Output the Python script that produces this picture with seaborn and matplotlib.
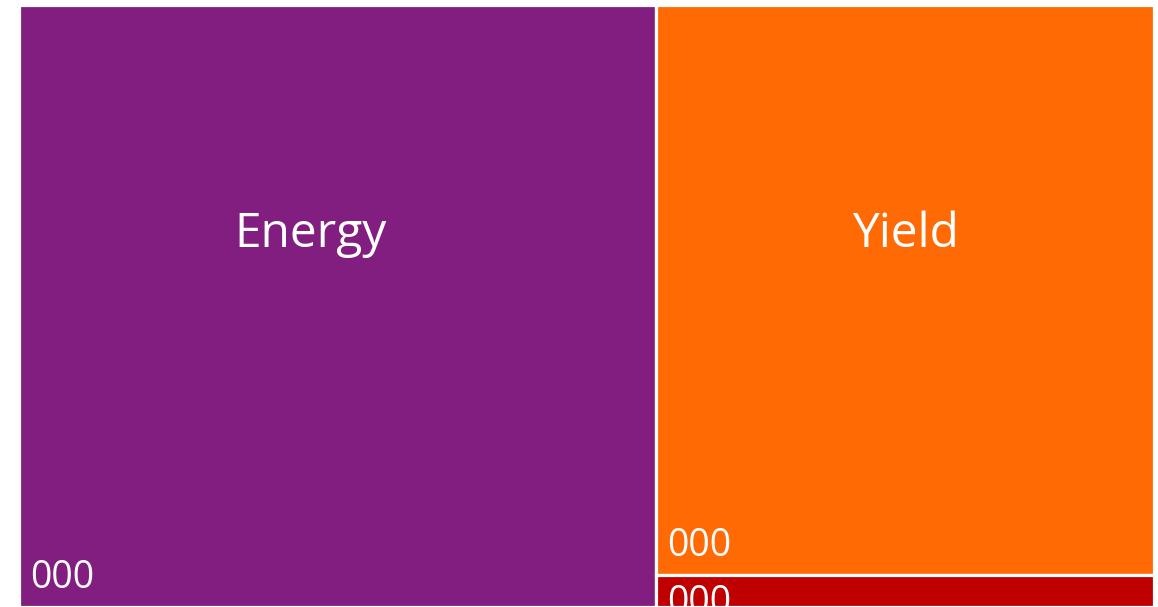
import matplotlib
matplotlib.use("Agg")
import matplotlib.pyplot as plt
from matplotlib.patches import Rectangle
import seaborn as sns

# ---- data ----
categories = ["Energy", "Yield", "Other"]
values = [56.2, 41.6, 2.3]
value_labels = ["000", "000", "000"]
colors = ["#821E80", "#FF6A04", "#C00000"]

sns.set_theme(style="white")
plt.rcParams["font.family"] = ["Open Sans", "DejaVu Sans"]
palette = sns.color_palette(colors)

# axes size in pixels (layout units)
W, H = 1135.0, 602.0
name_dx = {"Energy": -27.0}


def worst(row, side):
    s = sum(row)
    return max(max(side * side * r / (s * s), s * s / (side * side * r)) for r in row)


def layout_row(row, x, y, w, h):
    s = sum(row)
    rects = []
    if w >= h:
        cw = s / h
        cy = y
        for r in row:
            rh = r / cw
            rects.append((x, cy, cw, rh))
            cy += rh
        return rects, (x + cw, y, w - cw, h)
    rh = s / w
    cx = x
    for r in row:
        rw = r / rh
        rects.append((cx, y, rw, rh))
        cx += rw
    return rects, (x, y + rh, w, h - rh)


def squarify(areas, x, y, w, h):
    rects, row = [], []
    areas = list(areas)
    while areas:
        side = min(w, h)
        a = areas[0]
        if not row or worst(row + [a], side) <= worst(row, side):
            row.append(a)
            areas.pop(0)
        else:
            r, (x, y, w, h) = layout_row(row, x, y, w, h)
            rects += r
            row = []
    if row:
        r, _ = layout_row(row, x, y, w, h)
        rects += r
    return rects


total = sum(values)
areas = [v / total * W * H for v in values]
rects = squarify(areas, 0, 0, W, H)

fig = plt.figure(figsize=(11.58, 6.07), dpi=100)
ax = fig.add_axes([19 / 1158, 0, W / 1158, H / 607])
ax.set_xlim(0, W)
ax.set_ylim(H, 0)
ax.axis("off")

for (x, y, w, h), name, vl, col in zip(rects, categories, value_labels, palette):
    patch = Rectangle((x, y), w, h, facecolor=col, edgecolor="white", linewidth=2.3)
    ax.add_patch(patch)
    if h > 100:
        ax.text(x + w / 2 + name_dx.get(name, 0.0), y + 242, name, color="white",
                fontsize=34.5, ha="center", va="baseline")
    by = y + h - 19 if h >= 70 else y + 38
    t = ax.text(x + 11, by, vl, color="white", fontsize=27, ha="left", va="baseline")
    t.set_clip_path(patch)

fig.savefig("out.png", dpi=100)
